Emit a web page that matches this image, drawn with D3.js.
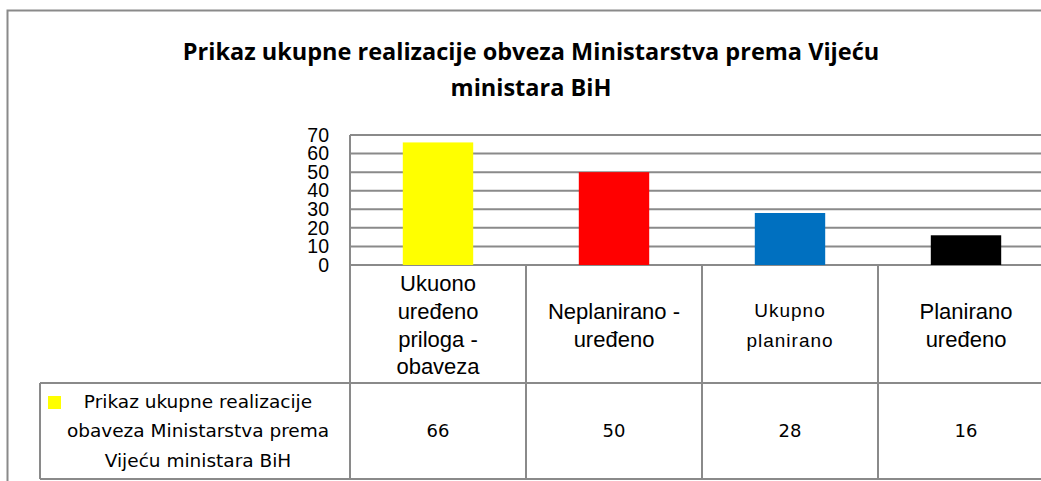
<!DOCTYPE html>
<html>
<head>
<meta charset="utf-8">
<script src="https://cdn.jsdelivr.net/npm/d3@7"></script>
<style>
  body { margin: 0; background: #fff; overflow: hidden; }
  svg { display: block; }
</style>
</head>
<body>
<div id="chart"></div>
<script>
// data
var titleLines = ["Prikaz ukupne realizacije obveza Ministarstva prema Vijeću", "ministara BiH"];
var categories = ["Ukuono uređeno priloga - obaveza", "Neplanirano - uređeno", "Ukupno planirano", "Planirano uređeno"];
var categoryLines = [["Ukuono", "uređeno", "priloga -", "obaveza"], ["Neplanirano -", "uređeno"], ["Ukupno", "planirano"], ["Planirano", "uređeno"]];
var values = [66, 50, 28, 16];
var barColors = ["#FFFF00", "#FF0000", "#0070C0", "#000000"];
var seriesLines = ["Prikaz ukupne realizacije", "obaveza Ministarstva prema", "Vijeću ministara BiH"];
var yTicks = [0, 10, 20, 30, 40, 50, 60, 70];

var W = 1041, H = 481;
var plot = { left: 350, right: 1054, top: 135, bottom: 265 };
var rowBottom = 383, tableBottom = 479, legendLeft = 40;
var lineCol = "#8a8a8a";

var svg = d3.select("#chart").append("svg")
	.attr("width", W)
	.attr("height", H);

// outer frame (runs off the right and bottom)
svg.append("path")
	.attr("d", "M7.5," + (H + 5) + "V10.5H" + (W + 5))
	.attr("fill", "none")
	.attr("stroke", lineCol)
	.attr("stroke-width", 2);

// title
svg.append("g").selectAll("text")
	.data(titleLines)
	.enter().append("text")
	.attr("x", 531)
	.attr("y", function(d, i) { return 60 + i * 36; })
	.attr("text-anchor", "middle")
	.style("font-family", "'Open Sans', sans-serif")
	.style("font-weight", "bold")
	.style("font-size", "23.5px")
	.text(function(d) { return d; });

var x = d3.scaleBand().domain(categories).range([plot.left, plot.right]).padding(0);
var y = d3.scaleLinear().domain([0, 70]).range([plot.bottom, plot.top]);

// gridlines
svg.append("g").selectAll("line")
	.data(yTicks)
	.enter().append("line")
	.attr("x1", plot.left)
	.attr("x2", W + 5)
	.attr("y1", function(d) { return y(d); })
	.attr("y2", function(d) { return y(d); })
	.attr("stroke", lineCol)
	.attr("stroke-width", 2);

// y axis labels
var yAxis = d3.axisLeft(y).tickValues(yTicks).tickSize(0).tickPadding(0);
var yg = svg.append("g")
	.attr("transform", "translate(329,0)")
	.call(yAxis);
yg.select(".domain").remove();
yg.selectAll("text")
	.style("font-family", "Arial, 'Liberation Sans', sans-serif")
	.style("font-size", "19.5px")
	.attr("fill", "#000");

// bars
svg.append("g").selectAll("rect")
	.data(values)
	.enter().append("rect")
	.attr("x", function(d, i) { return x(categories[i]) + x.bandwidth() * 0.3; })
	.attr("width", x.bandwidth() * 0.4)
	.attr("y", function(d) { return y(d); })
	.attr("height", function(d) { return y(0) - y(d); })
	.attr("fill", function(d, i) { return barColors[i]; });

// data table lines
var t = svg.append("g")
	.attr("stroke", lineCol)
	.attr("stroke-width", 2);
t.append("line").attr("x1", plot.left).attr("x2", plot.left).attr("y1", plot.top).attr("y2", tableBottom);
t.selectAll(".vcol")
	.data(categories)
	.enter().append("line")
	.attr("x1", function(d) { return x(d) + x.bandwidth(); })
	.attr("x2", function(d) { return x(d) + x.bandwidth(); })
	.attr("y1", plot.bottom)
	.attr("y2", tableBottom);
t.append("line").attr("x1", legendLeft).attr("x2", W + 5).attr("y1", rowBottom).attr("y2", rowBottom);
t.append("line").attr("x1", legendLeft).attr("x2", W + 5).attr("y1", tableBottom).attr("y2", tableBottom);
t.append("line").attr("x1", legendLeft).attr("x2", legendLeft).attr("y1", rowBottom).attr("y2", tableBottom);

// category labels
var headMid = (plot.bottom + rowBottom) / 2;
var cats = svg.append("g").selectAll("g")
	.data(categories)
	.enter().append("g");
cats.each(function(c, i) {
	var lines = categoryLines[i];
	var small = i === 2;
	d3.select(this).selectAll("text")
		.data(lines)
		.enter().append("text")
		.attr("x", x(c) + x.bandwidth() / 2)
		.attr("y", function(d, j) { return headMid + 1 + (j - (lines.length - 1) / 2) * (small ? 30 : 27.7); })
		.attr("dy", "0.35em")
		.attr("text-anchor", "middle")
		.style("font-family", "Arial, 'Liberation Sans', sans-serif")
		.style("font-size", small ? "19px" : "22px")
		.style("letter-spacing", small ? "1px" : null)
		.text(function(d) { return d; });
});

// values row
var valMid = (rowBottom + tableBottom) / 2;
svg.append("g").selectAll("text")
	.data(values)
	.enter().append("text")
	.attr("x", function(d, i) { return x(categories[i]) + x.bandwidth() / 2; })
	.attr("y", valMid)
	.attr("dy", "0.35em")
	.attr("text-anchor", "middle")
	.style("font-family", "'DejaVu Sans', sans-serif")
	.style("font-size", "18px")
	.text(function(d) { return d; });

// legend key + series name
svg.append("rect")
	.attr("x", 48)
	.attr("y", 396)
	.attr("width", 13)
	.attr("height", 13)
	.attr("fill", barColors[0]);
svg.append("g").selectAll("text")
	.data(seriesLines)
	.enter().append("text")
	.attr("x", 198)
	.attr("y", function(d, i) { return valMid + (i - 1) * 29.5; })
	.attr("dy", "0.35em")
	.attr("text-anchor", "middle")
	.style("font-family", "'DejaVu Sans', sans-serif")
	.style("font-size", "18.5px")
	.text(function(d) { return d; });
</script>
</body>
</html>
